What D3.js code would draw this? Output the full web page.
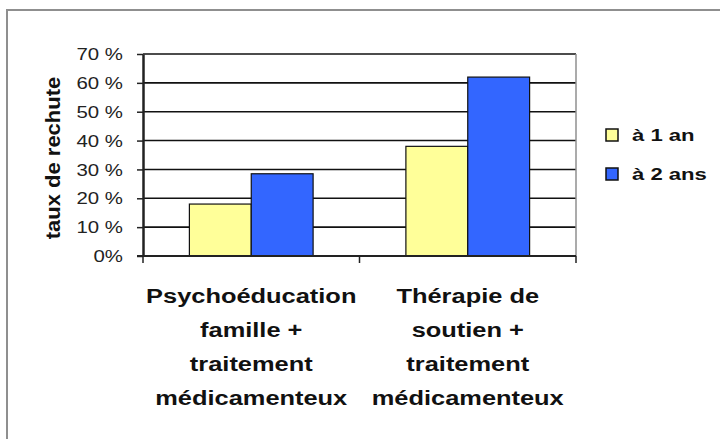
<!DOCTYPE html>
<html>
<head>
<meta charset="utf-8">
<script src="https://cdn.jsdelivr.net/npm/d3@7"></script>
<style>
  body { margin: 0; background: #fff; }
  svg { display: block; font-family: "Liberation Sans", Arial, Helvetica, sans-serif; }
</style>
</head>
<body>
<div id="chart"></div>
<script>
const categories = [
  ["Psychoéducation", "famille +", "traitement", "médicamenteux"],
  ["Thérapie de", "soutien +", "traitement", "médicamenteux"],
];
const seriesNames = ["à 1 an", "à 2 ans"];
const oneYear = [0.18, 0.38];
const twoYears = [0.285, 0.62];
const yTicks = [0, 0.1, 0.2, 0.3, 0.4, 0.5, 0.6, 0.7];
const yTickLabels = ["0%", "10 %", "20 %", "30 %", "40 %", "50 %", "60 %", "70 %"];

const COLORS = ["#ffff99", "#3366ff"];

const width = 720, height = 439;
const plot = { left: 143, right: 576, top: 54, bottom: 256 };

const svg = d3.select("#chart").append("svg")
  .attr("width", width)
  .attr("height", height);

// outer frame (runs off the right and bottom edges)
svg.append("rect")
  .attr("x", 7).attr("y", 10)
  .attr("width", 900).attr("height", 900)
  .attr("fill", "none")
  .attr("stroke", "#8f8f8f")
  .attr("stroke-width", 2);

const catIds = categories.map((c, i) => i);
const x = d3.scaleBand()
  .domain(catIds)
  .range([plot.left, plot.right])
  .paddingInner(0)
  .paddingOuter(0);

// Excel style gap width 150%
const xInner = d3.scaleBand()
  .domain(seriesNames)
  .range([0, x.bandwidth()])
  .paddingInner(0)
  .paddingOuter(0.75);

const y = d3.scaleLinear()
  .domain([0, 0.7])
  .range([plot.bottom, plot.top]);

// gridlines
svg.append("g")
  .selectAll("line")
  .data(yTicks.slice(1))
  .join("line")
  .attr("x1", plot.left).attr("x2", plot.right)
  .attr("y1", d => y(d)).attr("y2", d => y(d))
  .attr("stroke", "#111")
  .attr("stroke-width", 1.6);

// right border of plot area
svg.append("line")
  .attr("x1", plot.right).attr("x2", plot.right)
  .attr("y1", plot.top).attr("y2", plot.bottom)
  .attr("stroke", "#8f8f8f")
  .attr("stroke-width", 1.5);

// bars
const rows = catIds.map(i => ({ cat: i, values: [oneYear[i], twoYears[i]] }));
const groups = svg.append("g")
  .selectAll("g")
  .data(rows)
  .join("g")
  .attr("transform", d => `translate(${x(d.cat)},0)`);

groups.selectAll("rect")
  .data(d => d.values.map((v, j) => ({ v, name: seriesNames[j], j })))
  .join("rect")
  .attr("x", d => xInner(d.name))
  .attr("y", d => y(d.v))
  .attr("width", xInner.bandwidth())
  .attr("height", d => y(0) - y(d.v))
  .attr("fill", d => COLORS[d.j])
  .attr("stroke", "#111")
  .attr("stroke-width", 1.2);

// y axis
const yAxis = svg.append("g")
  .attr("transform", `translate(${plot.left},0)`)
  .call(d3.axisLeft(y)
    .tickValues(yTicks)
    .tickSize(6)
    .tickSizeOuter(0)
    .tickFormat(""));
yAxis.select(".domain").attr("stroke", "#222").attr("stroke-width", 2.5);
yAxis.selectAll(".tick line").attr("stroke", "#222").attr("stroke-width", 1.5);

svg.append("g")
  .selectAll("text")
  .data(yTicks)
  .join("text")
  .attr("transform", d => `translate(123,${y(d)}) scale(1.2,1)`)
  .attr("dy", "0.36em")
  .attr("text-anchor", "end")
  .attr("font-size", 17)
  .attr("fill", "#222")
  .text((d, i) => yTickLabels[i]);

// x axis
const xAxisG = svg.append("g")
  .attr("transform", `translate(0,${plot.bottom})`);
xAxisG.append("line")
  .attr("x1", plot.left - 6).attr("x2", plot.right)
  .attr("stroke", "#222")
  .attr("stroke-width", 2);
xAxisG.selectAll(".xtick")
  .data([plot.left, x(1), plot.right])
  .join("line")
  .attr("class", "xtick")
  .attr("x1", d => d).attr("x2", d => d)
  .attr("y1", 0).attr("y2", 7)
  .attr("stroke", "#222")
  .attr("stroke-width", 1.5);

// category labels
const labelG = svg.append("g")
  .selectAll("g")
  .data(rows)
  .join("g");
labelG.selectAll("text")
  .data(d => categories[d.cat].map((line, k) => ({ line, k, cx: x(d.cat) + x.bandwidth() / 2 })))
  .join("text")
  .attr("transform", d => `translate(${d.cx},${303 + d.k * 34}) scale(1.27,1)`)
  .attr("text-anchor", "middle")
  .attr("font-size", 20)
  .attr("font-weight", "bold")
  .attr("fill", "#111")
  .text(d => d.line);

// y axis title
svg.append("text")
  .attr("transform", "translate(60,158) rotate(-90) scale(1.1,1)")
  .attr("text-anchor", "middle")
  .attr("font-size", 20)
  .attr("font-weight", "bold")
  .attr("fill", "#111")
  .text("taux de rechute");

// legend
const legend = svg.append("g")
  .selectAll("g")
  .data(seriesNames)
  .join("g")
  .attr("transform", (d, i) => `translate(606,${129 + i * 39})`);
legend.append("rect")
  .attr("width", 12).attr("height", 12)
  .attr("fill", (d, i) => COLORS[i])
  .attr("stroke", "#111")
  .attr("stroke-width", 1.5);
legend.append("text")
  .attr("transform", "translate(26,12) scale(1.3,1)")
  .attr("font-size", 17)
  .attr("font-weight", "bold")
  .attr("fill", "#111")
  .text(d => d);
</script>
</body>
</html>
